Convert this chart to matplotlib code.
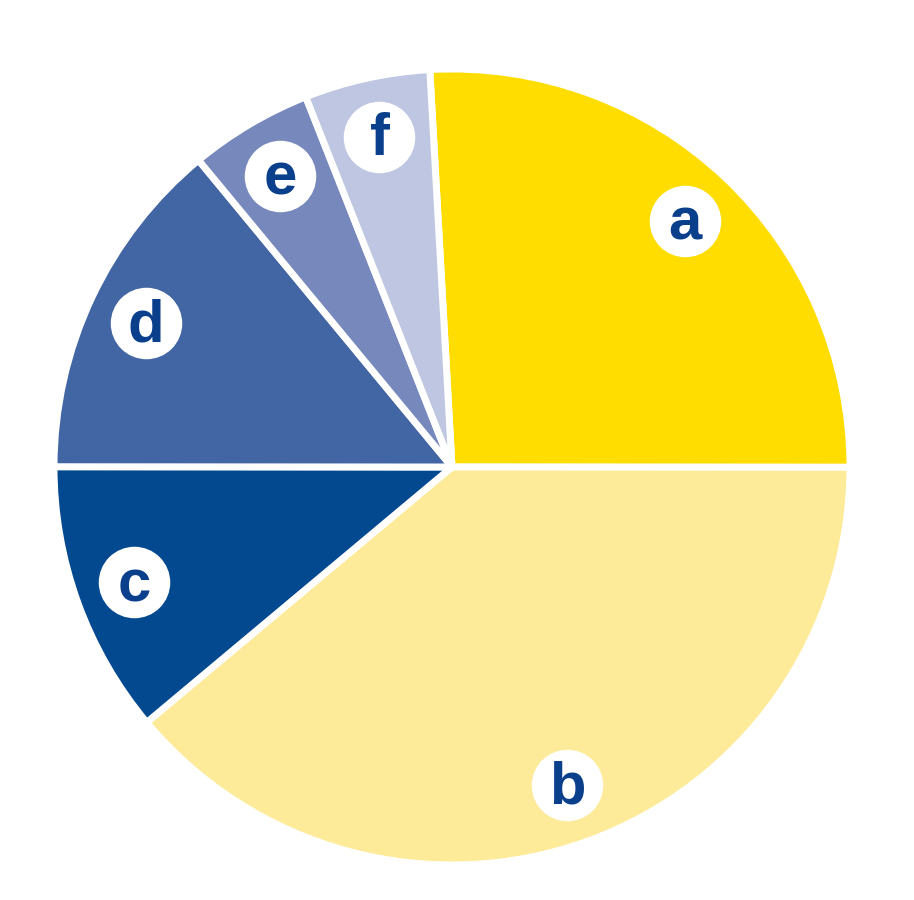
import numpy as np
import matplotlib.pyplot as plt

# slice shares in percent, clockwise starting near 12 o'clock
labels = ["a", "b", "c", "d", "e", "f"]
shares = [25.9, 38.9, 11.1, 14.0, 5.0, 5.1]
colors = ["#FFDD00", "#FDEB9A", "#03498F", "#4265A4", "#7688BC", "#BEC6E1"]

fig = plt.figure(figsize=(9.14, 9.0), dpi=100)
# pie radius ~398 px, centre at (452, 467) px
ax = fig.add_axes([52 / 914, (900 - 467 - 400) / 900, 800 / 914, 800 / 900])
lim = 400 / 398

wedges, _ = ax.pie(shares, colors=colors, startangle=93.2, counterclock=False,
                   radius=1.0,
                   wedgeprops=dict(edgecolor="white", linewidth=5, joinstyle="round"),
                   frame=True)
ax.set_xlim(-lim, lim)
ax.set_ylim(-lim, lim)
ax.set_aspect("equal")
ax.axis("off")

for w, lab in zip(wedges, labels):
    mid = np.deg2rad((w.theta1 + w.theta2) / 2)
    x, y = 0.85 * np.cos(mid), 0.85 * np.sin(mid)
    ax.scatter([x], [y], s=2650, color="white", zorder=3, linewidths=0)
    ax.text(x, y - 0.008, lab, ha="center", va="center", fontsize=43,
            fontweight="bold", color="#0A3F8C", zorder=4,
            family=["Liberation Sans", "DejaVu Sans"])

fig.savefig("out.png", dpi=100, facecolor="white")
